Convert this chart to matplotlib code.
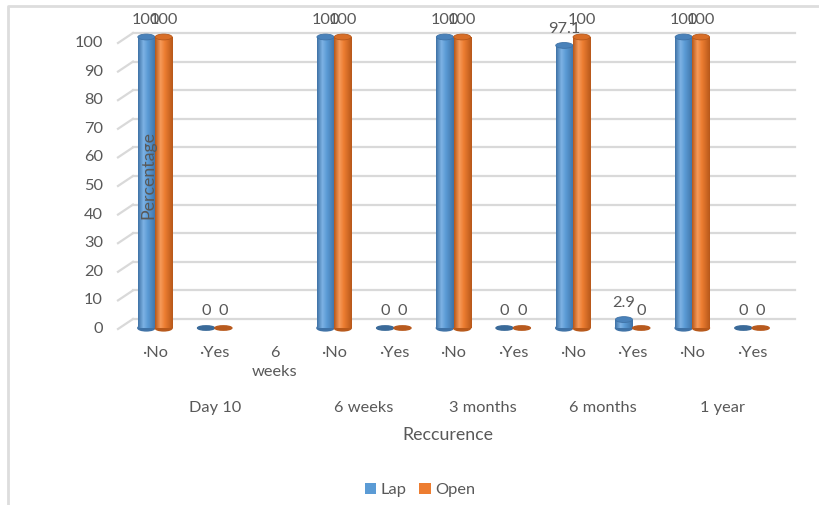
import numpy as np
import matplotlib.pyplot as plt
from matplotlib.patches import Ellipse
from matplotlib.lines import Line2D
from matplotlib.colors import LinearSegmentedColormap

plt.rcParams['font.family'] = ['Lato', 'DejaVu Sans']

# Recurrence data (percent of patients)
categories = ['·No', '·Yes', '6\nweeks', '·No', '·Yes', '·No', '·Yes', '·No', '·Yes', '·No', '·Yes']
groups = ['Day 10', '6 weeks', '3 months', '6 months', '1 year']
group_slots = [(0, 2), (3, 4), (5, 6), (7, 8), (9, 10)]
lap = [100, 0, np.nan, 100, 0, 100, 0, 97.1, 2.9, 100, 0]
open_ = [100, 0, np.nan, 100, 0, 100, 0, 100, 0, 100, 0]
yticks = list(range(0, 101, 10))

BLUE = '#5B9BD5'
ORANGE = '#ED7D31'
TXT = '#595959'
GRID = '#D9D9D9'
FS = 11.8

W, H = 820, 505
fig = plt.figure(figsize=(W / 100, H / 100), dpi=100)
ax = fig.add_axes([0, 0, 1, 1])
ax.axis('off')

# pixel -> data helpers (x: category slot, y: percent)
def dx(p):
    return (p - 155) / 59.7

def dy(p):
    return (328 - p) / 2.91

XL = (dx(0), dx(W))
YL = (dy(H), dy(0))
ax.set_xlim(*XL)
ax.set_ylim(*YL)

# back-wall gridlines with slanted side ticks
for v in yticks:
    g = 319 - 2.86 * v
    f = 329 - 2.86 * v
    ax.plot([dx(133), dx(795)], [dy(g), dy(g)], color=GRID, lw=1.6, zorder=1)
    ax.plot([dx(118), dx(133)], [dy(f), dy(g)], color=GRID, lw=1.6, zorder=1)
    ax.text(dx(103), dy(f), str(v), ha='right', va='center', fontsize=FS, color=TXT)

x = np.arange(len(categories))
bw = 0.285
off = 0.145

def shade(c_dark, c_mid, c_light):
    return LinearSegmentedColormap.from_list(
        'cyl', [(0, c_dark), (0.3, c_light), (0.55, c_mid), (1, c_dark)])

series = [
    (lap, -off, BLUE, shade('#3F72A6', BLUE, '#7DB2E4'), '#4A82BA', '#3A6A99', 'Lap'),
    (open_, off, ORANGE, shade('#B7581A', ORANGE, '#F69A5A'), '#D86E27', '#B85A1E', 'Open'),
]
grad = np.linspace(0, 1, 64).reshape(1, -1)

for vals, o, col, cmap, cap, flat, name in series:
    bars = ax.bar(x + o, vals, width=bw, color=col, zorder=3, label=name)
    for b, v in zip(bars, vals):
        if np.isnan(v):
            continue
        cx = b.get_x() + b.get_width() / 2
        if v > 0:
            im = ax.imshow(grad, cmap=cmap, aspect='auto', zorder=3.5,
                           extent=[b.get_x(), b.get_x() + b.get_width(), 0, v])
            im.set_clip_path(b)
            ax.add_patch(Ellipse((cx, 0), bw, 2.0, color=cmap(0.0), zorder=3.2))
            ax.add_patch(Ellipse((cx, v), bw, 2.0, facecolor=cap,
                                 edgecolor=cmap(0.0), lw=0.6, zorder=4))
        else:
            ax.add_patch(Ellipse((cx, 0), bw, 1.5, color=flat, zorder=4))
        ax.annotate(f'{v:g}', (cx, v), xytext=(0, 12), textcoords='offset points',
                    ha='center', va='center', fontsize=FS, color=TXT, zorder=5)

ax.set_xlim(*XL)
ax.set_ylim(*YL)

# category and group labels
for i, c in enumerate(categories):
    ax.text(i, dy(346), c, ha='center', va='top', fontsize=FS, color=TXT,
            linespacing=1.45)
for g, (a, b) in zip(groups, group_slots):
    ax.text((a + b) / 2, dy(408), g, ha='center', va='center', fontsize=FS, color=TXT)

ax.text(dx(448), dy(435), 'Reccurence', ha='center', va='center', fontsize=12.8, color=TXT)
ax.text(dx(148), dy(175), 'Percentage', ha='center', va='center', rotation=90,
        fontsize=12.8, color=TXT, zorder=6)

fig.legend(loc='center', bbox_to_anchor=(420 / W, 1 - 490 / H), ncol=2, frameon=False,
           fontsize=FS, handlelength=0.7, handleheight=0.7, handletextpad=0.25,
           columnspacing=0.8, labelcolor=TXT)

# outer chart frame
fig.add_artist(Line2D([8 / W, 8 / W, 1], [0, 1 - 6 / H, 1 - 6 / H], color='#DDDDDD', lw=2))

fig.savefig('out.png', dpi=100)
